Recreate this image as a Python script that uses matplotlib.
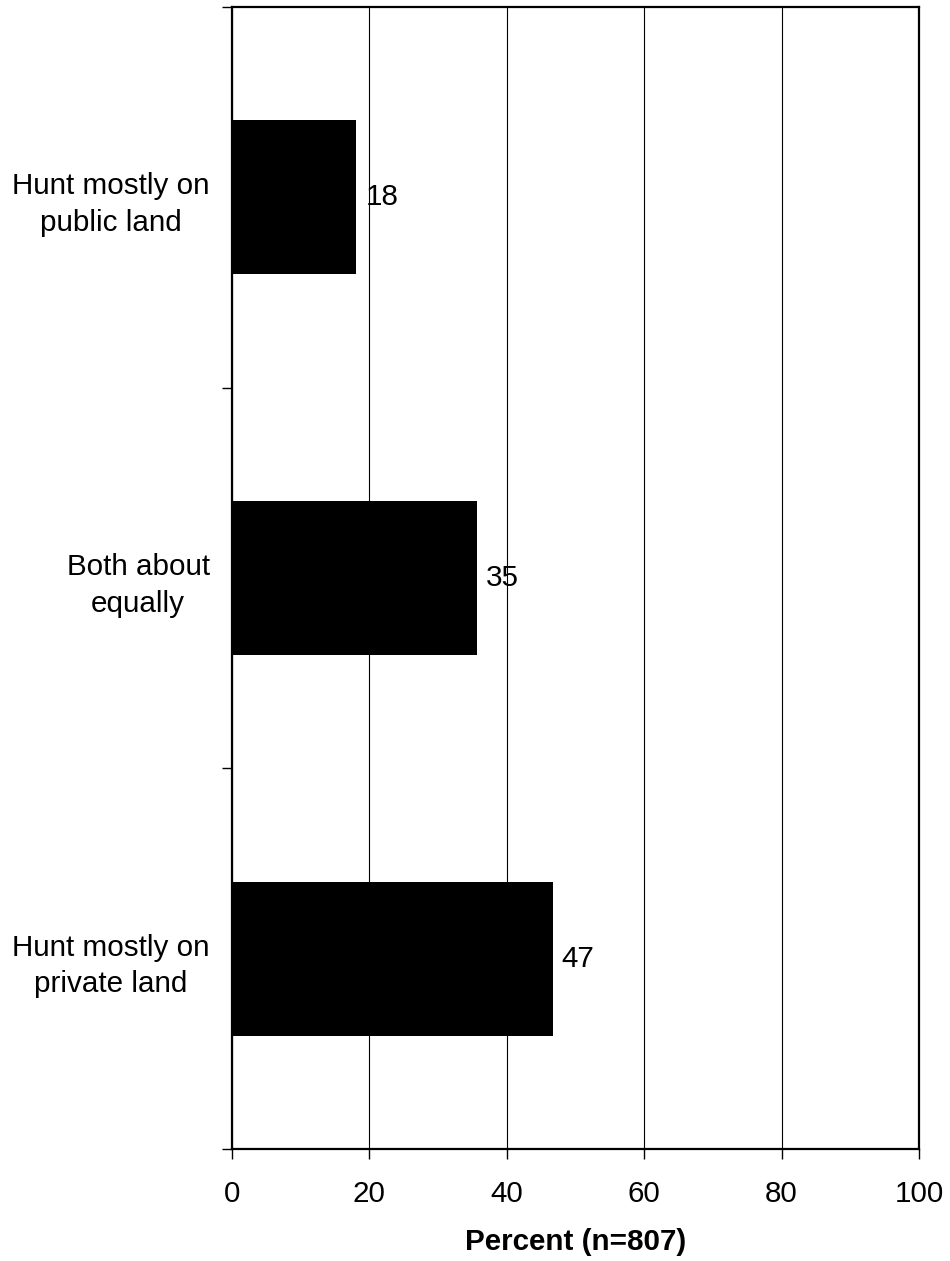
import matplotlib
matplotlib.use("Agg")
import matplotlib.pyplot as plt

categories = ["Hunt mostly on\nprivate land", "Both about\nequally", "Hunt mostly on\npublic land"]
values = [46.7, 35.6, 18.1]
value_labels = ["47", "35", "18"]
xticks = [0, 20, 40, 60, 80, 100]

plt.rcParams['font.family'] = ['Liberation Sans', 'DejaVu Sans']
FS = 21.3

fig = plt.figure(figsize=(9.5, 12.61), dpi=100)
ax = fig.add_axes([232/950, 1 - 1149/1261, (919-232)/950, (1149-7)/1261])

pos = list(range(len(categories)))
ax.barh(pos, values, height=0.405, color='black', zorder=3)
for p, v, lab in zip(pos, values, value_labels):
    ax.text(v + 1.3, p, lab, va='center', ha='left', fontsize=FS, zorder=4)

ax.set_xlim(0, 100)
ax.set_ylim(-0.5, len(categories) - 0.5)
ax.set_xticks(xticks)
ax.set_xticklabels([str(t) for t in xticks], fontsize=FS)
ax.tick_params(axis='x', direction='out', length=7, width=1, pad=15)

ax.set_yticks([p - 0.5 for p in pos] + [len(categories) - 0.5])
ax.set_yticklabels([])
ax.tick_params(axis='y', which='major', direction='out', length=7, width=1)
ax.set_yticks(pos, minor=True)
ax.set_yticklabels(categories, minor=True, fontsize=FS, multialignment='center', linespacing=1.4)
ax.tick_params(axis='y', which='minor', length=0, pad=16)

ax.xaxis.grid(True, color='black', linewidth=0.8, zorder=0)
for s in ax.spines.values():
    s.set_linewidth(1.6)
    s.set_zorder(5)

ax.set_xlabel("Percent (n=807)", fontsize=FS, fontweight='bold', labelpad=15)

fig.savefig("out.png", dpi=100)
